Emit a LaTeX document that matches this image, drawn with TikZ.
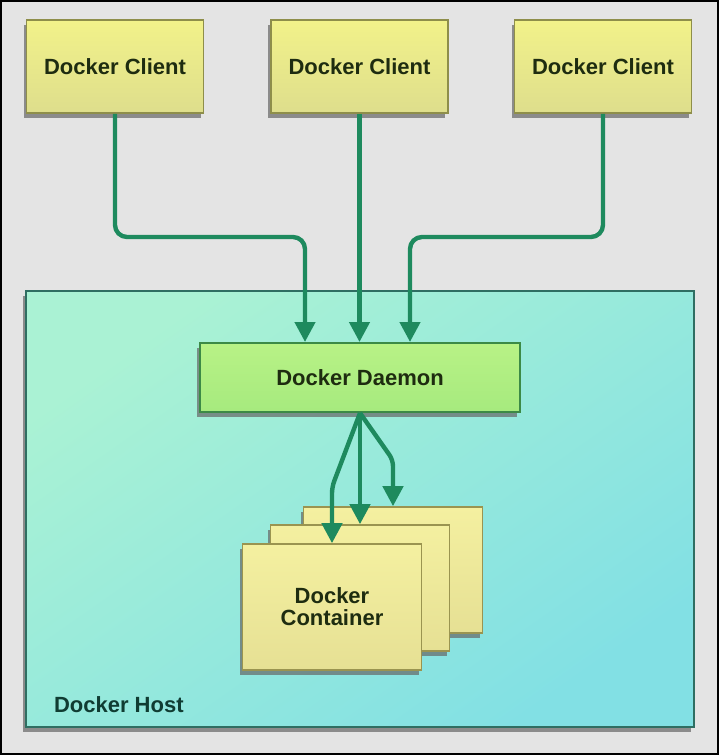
\documentclass[tikz,border=0pt]{standalone}
\usepackage{fontspec}
\setmainfont{Liberation Sans}
\usetikzlibrary{shadows,arrows.meta}

\definecolor{bggray}{HTML}{E4E4E4}
\definecolor{clienttop}{HTML}{F2F28A}
\definecolor{clientbot}{HTML}{DEDE8C}
\definecolor{clientline}{HTML}{8E8E4A}
\definecolor{hosttl}{HTML}{AAF2D4}
\definecolor{hostbr}{HTML}{82E0E4}
\definecolor{hostline}{HTML}{2F6E62}
\definecolor{daemontop}{HTML}{B8F286}
\definecolor{daemonbot}{HTML}{A6EA7E}
\definecolor{daemonline}{HTML}{3C8A46}
\definecolor{conttop}{HTML}{F4F0A0}
\definecolor{contbot}{HTML}{E6E094}
\definecolor{contline}{HTML}{9A9450}
\definecolor{flowgreen}{HTML}{1E8A5E}
\definecolor{labeltext}{HTML}{1E2C10}
\definecolor{hosttext}{HTML}{103C32}

\begin{document}
\begin{tikzpicture}[x=0.5pt, y=-0.5pt]%
\tikzstyle{shade} = [drop shadow={shadow xshift=-1.5pt, shadow yshift=-2.5pt,
    fill=black!60, opacity=0.7}]
\tikzstyle{client} = [shade, draw=clientline, line width=0.8pt, rectangle,
    top color=clienttop, bottom color=clientbot, minimum width=88.5pt,
    minimum height=46.5pt, text=labeltext, font=\bfseries\fontsize{11}{13}\selectfont]
\tikzstyle{host} = [shade, draw=hostline, line width=1pt, rectangle,
    top color=hosttl, bottom color=hostbr, shading angle=35,
    minimum width=334pt, minimum height=218pt]
\tikzstyle{daemon} = [shade, draw=daemonline, line width=1pt, rectangle,
    top color=daemontop, bottom color=daemonbot, minimum width=160pt,
    minimum height=34.5pt, text=labeltext, font=\bfseries\fontsize{11}{13}\selectfont]
\tikzstyle{container} = [shade, draw=contline, line width=0.8pt, rectangle,
    top color=conttop, bottom color=contbot, minimum width=89.5pt,
    minimum height=63pt, text=labeltext, align=center,
    font=\bfseries\fontsize{11}{11}\selectfont]
\tikzstyle{flow} = [draw=flowgreen, line width=2.2pt, rounded corners=6pt,
    -{Triangle[length=10pt, width=10pt]}]

\fill[bggray] (0,0) rectangle (719,755);
\useasboundingbox (0,0) rectangle (719,755);
\draw[black, line width=1.2pt] (1,1) rectangle (718,754);

\node[host] (host) at (360,509) {};
\node[anchor=west, text=hosttext, font=\bfseries\fontsize{11}{13}\selectfont]
    (hostlabel) at (47,705) {Docker Host};

\node[client] (c1) at (115,66.5) {Docker Client};
\node[client] (c2) at (359.5,66.5) {Docker Client};
\node[client] (c3) at (603,66.5) {Docker Client};

\node[daemon] (d) at (360,377.5) {Docker Daemon};

\node[container] (ct3) at (393,570) {};
\node[container] (ct2) at (360,588) {};
\node[container] (ct1) at (332,607) {Docker\\Container};

\coordinate (k1) at (305,237);
\coordinate (k3) at (410,237);
\coordinate (b1) at (332,487);
\coordinate (b3) at (393,460);

\draw[flow] (c1.south) |- (k1) -- (k1 |- d.north);
\draw[flow] (c2.south) -- (c2.south |- d.north);
\draw[flow] (c3.south) |- (k3) -- (k3 |- d.north);

\draw[flow, rounded corners=3pt] (d.south) -- (b1) -- (ct1.north);
\draw[flow] (d.south) -- (ct2.north);
\draw[flow, rounded corners=3pt] (d.south) -- (b3) -- (ct3.north);
\end{tikzpicture}
\end{document}
